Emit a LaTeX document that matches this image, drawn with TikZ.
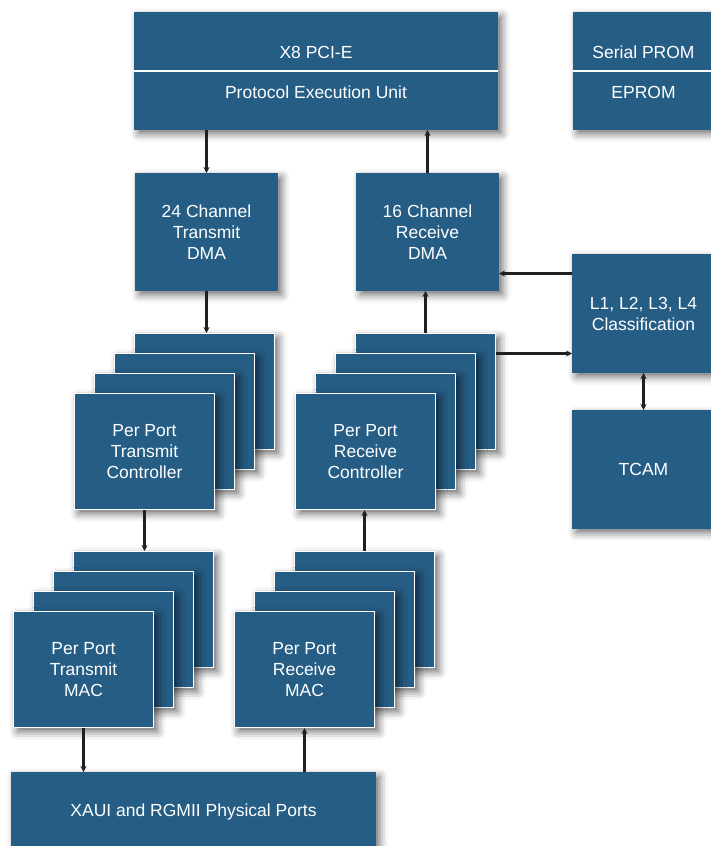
\documentclass[tikz,border=0pt]{standalone}
\usepackage{fontspec}
\setmainfont{Liberation Sans}
\usetikzlibrary{arrows.meta,shadows.blur}

\definecolor{blockblue}{HTML}{265D85}
\definecolor{linkblack}{HTML}{231F20}

\tikzset{
  block/.style={fill=blockblue, draw=white, line width=1pt, inner sep=0pt,
    minimum width=140pt, minimum height=116pt, anchor=north west,
    text=white, align=center, font=\fontsize{17.5}{21}\selectfont,
    blur shadow={shadow xshift=4pt, shadow yshift=-4pt,
      shadow blur radius=8pt, shadow opacity=60}},
  solo/.style={block, draw=blockblue},
  lbl/.style={text=white, font=\fontsize{17.5}{21}\selectfont},
  link/.style={draw=linkblack, line width=2.2pt, -{Stealth[length=6pt,width=6pt]}},
  twolink/.style={link, {Stealth[length=6pt,width=6pt]}-{Stealth[length=6pt,width=6pt]}}
}

\begin{document}
\begin{tikzpicture}[x=1pt,y=-1pt]
\useasboundingbox (0,0) rectangle (711,846); % page

% Top row
\node[solo, minimum width=363pt, minimum height=117pt] (pcie) at (134,12) {};
\draw[white, line width=2.5pt] (pcie.west) -- (pcie.east); % divider
\node[lbl] (pcietop) at ([yshift=19pt]pcie.center) {X8 PCI-E};
\node[lbl] (pcieunit) at ([yshift=-21pt]pcie.center) {Protocol Execution Unit};

\node[solo, minimum height=117pt] (prom) at (573,12) {};
\draw[white, line width=2.5pt] (prom.west) -- (prom.east); % divider
\node[lbl] (promtop) at ([yshift=19pt]prom.center) {Serial PROM};
\node[lbl] (promlow) at ([yshift=-21pt]prom.center) {EPROM};

% DMA engines
\node[solo, minimum width=142pt, minimum height=117pt] (txdma) at (135,173) {24 Channel\\Transmit\\DMA};
\node[solo, minimum width=142pt, minimum height=117pt] (rxdma) at (356,173) {16 Channel\\Receive\\DMA};

% Classification and TCAM
\node[solo, minimum width=142pt, minimum height=118pt] (cls) at (572,254) {L1, L2, L3, L4\\Classification};
\node[solo, minimum width=142pt, minimum height=118pt] (tcam) at (572,410) {TCAM};

% Per port controllers (stacks, back to front)
\foreach \i/\d in {4/60,3/40,2/20} {
  \node[block] (txc\i) at ({74+\d},{393-\d}) {};
  \node[block] (rxc\i) at ({295+\d},{393-\d}) {};
}
\node[block] (txc1) at (74,393) {Per Port\\Transmit\\Controller};
\node[block] (rxc1) at (295,393) {Per Port\\Receive\\Controller};

% Per port MACs (stacks, back to front)
\foreach \i/\d in {4/60,3/40,2/20} {
  \node[block] (txm\i) at ({13+\d},{611-\d}) {};
  \node[block] (rxm\i) at ({234+\d},{611-\d}) {};
}
\node[block] (txm1) at (13,611) {Per Port\\Transmit\\MAC};
\node[block] (rxm1) at (234,611) {Per Port\\Receive\\MAC};

% Physical ports
\node[solo, minimum width=364pt, minimum height=78pt] (xaui) at (11,772) {XAUI and RGMII Physical Ports};

% Connectors
\coordinate (clsin) at ([yshift=40pt]cls.west);
\coordinate (clsout) at ([yshift=-40pt]cls.west);

\draw[link] (pcie.south -| txdma.north) -- (txdma.north);
\draw[link] (rxdma.north) -- (rxdma.north |- pcie.south);
\draw[link] (txdma.south) -- (txdma.south |- txc4.north);
\draw[link] (rxc4.north) -- (rxc4.north |- rxdma.south);
\draw[link] (clsin) -- (clsin -| rxdma.east);
\draw[link] (clsout -| rxc4.east) -- (clsout);
\draw[twolink] (tcam.north) -- (cls.south);
\draw[link] (txc1.south) -- (txc1.south |- txm4.north);
\draw[link] (rxm4.north) -- (rxm4.north |- rxc1.south);
\draw[link] (txm1.south) -- (txm1.south |- xaui.north);
\draw[link] (rxm1.south |- xaui.north) -- (rxm1.south);

\end{tikzpicture}
\end{document}
